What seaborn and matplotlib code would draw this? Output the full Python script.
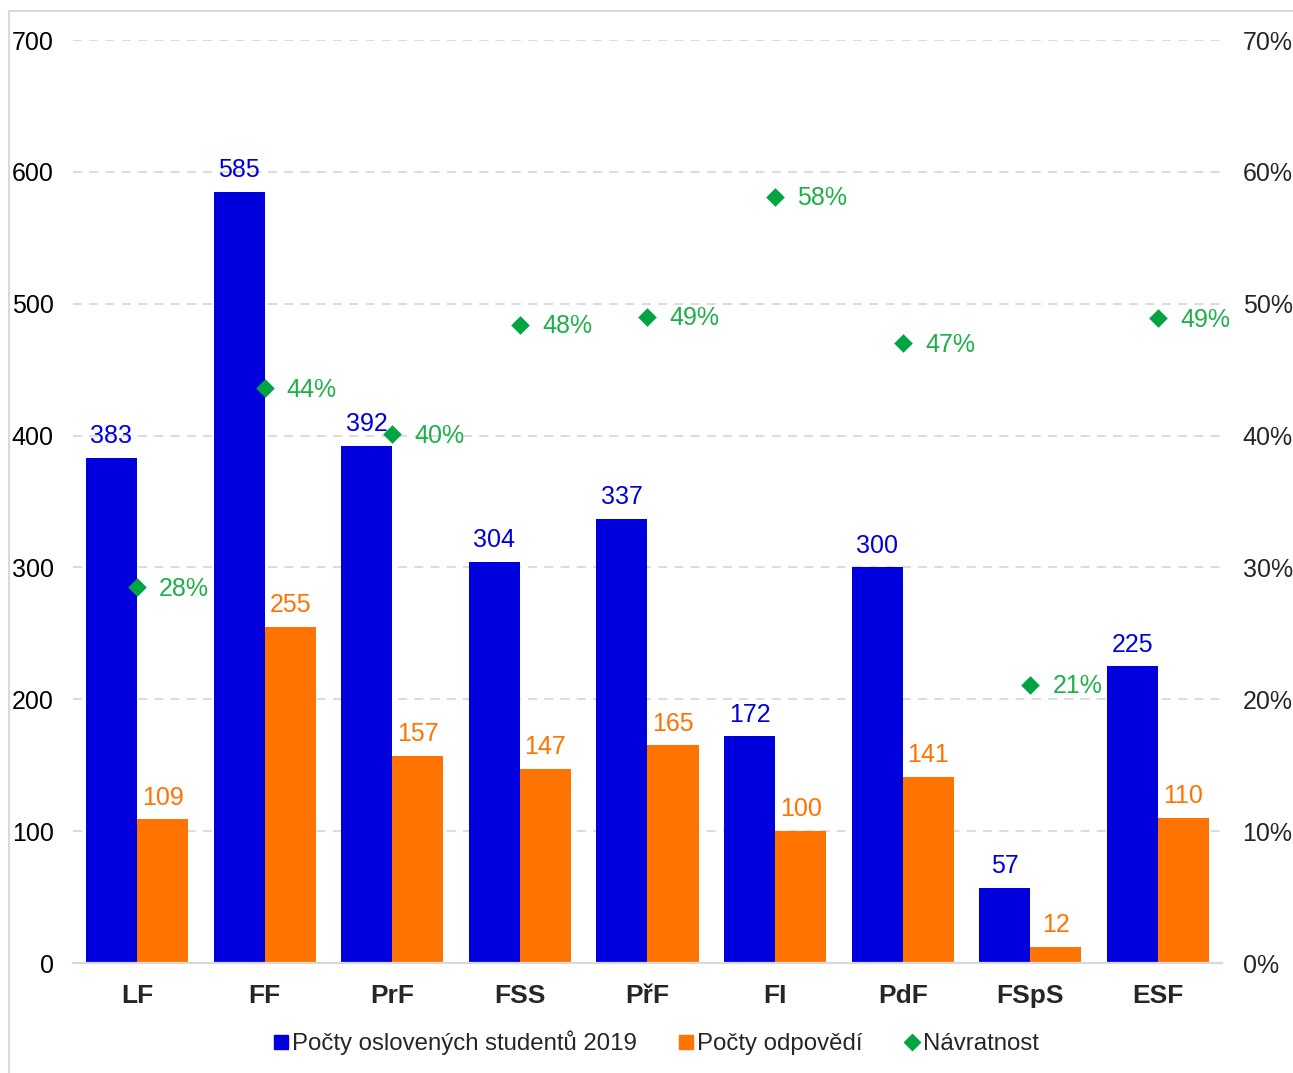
import pandas as pd
import seaborn as sns
import matplotlib.pyplot as plt
from matplotlib.lines import Line2D
from matplotlib.patches import Rectangle
from matplotlib.ticker import FuncFormatter

# data
fakulty = ['LF', 'FF', 'PrF', 'FSS', 'PřF', 'FI', 'PdF', 'FSpS', 'ESF']
osloveni = [383, 585, 392, 304, 337, 172, 300, 57, 225]
odpovedi = [109, 255, 157, 147, 165, 100, 141, 12, 110]
navratnost = [28.5, 43.6, 40.1, 48.4, 49.0, 58.1, 47.0, 21.1, 48.9]

serie = ['Počty oslovených studentů 2019', 'Počty odpovědí', 'Návratnost']
blue = '#0000DC'
orange = '#FF7300'
green = '#00A542'
green_txt = '#1DB04A'
grid_c = '#D9D9D9'

sns.set_theme(style='white')
plt.rcParams['font.family'] = ['Liberation Sans', 'DejaVu Sans']

df = pd.DataFrame({
    'fakulta': fakulty * 2,
    'pocet': osloveni + odpovedi,
    'serie': [serie[0]] * len(fakulty) + [serie[1]] * len(fakulty),
})

fig = plt.figure(figsize=(12.93, 10.73), dpi=100)
ax = fig.add_axes([0.0566, 0.1025, 0.8883, 0.8602])

sns.barplot(data=df, x='fakulta', y='pocet', hue='serie', palette=[blue, orange],
            width=0.8, saturation=1, ax=ax, legend=False, errorbar=None, linewidth=0)
ax.set_xlim(-0.5, len(fakulty) - 0.5)
ax.set_ylim(0, 700)
ax.set_yticks(range(0, 701, 100))
ax.set_xlabel('')
ax.set_ylabel('')
ax.grid(axis='y', color=grid_c, linestyle=(0, (5, 4)), linewidth=1.3)
ax.set_axisbelow(True)
for s in ['top', 'left', 'right']:
    ax.spines[s].set_visible(False)
ax.spines['bottom'].set_color(grid_c)
ax.spines['bottom'].set_linewidth(1.6)
ax.tick_params(axis='y', length=0, pad=14, labelsize=18, labelcolor='black')
ax.tick_params(axis='x', length=0, pad=15, labelsize=19)
for t in ax.get_xticklabels():
    t.set_fontweight('bold')

# bar value labels
for cont, col in zip(ax.containers, [blue, orange]):
    for bar in cont:
        h = bar.get_height()
        ax.annotate(f'{h:.0f}', (bar.get_x() + bar.get_width() / 2, h),
                    xytext=(0, 7), textcoords='offset points', ha='center', va='bottom',
                    fontsize=18, color=col)

# return rate on secondary axis
ax2 = ax.twinx()
sns.scatterplot(x=list(range(len(fakulty))), y=navratnost, marker='D', s=90, color=green,
                edgecolor=green, linewidth=0, ax=ax2, zorder=5)
ax2.set_ylim(0, 70)
ax2.set_yticks(range(0, 71, 10))
ax2.yaxis.set_major_formatter(FuncFormatter(lambda v, p: f'{v:.0f}%'))
ax2.tick_params(axis='y', length=0, pad=15, labelsize=18)
for s in ax2.spines.values():
    s.set_visible(False)
ax2.grid(False)
for i, r in enumerate(navratnost):
    ax2.annotate(f'{r:.0f}%', (i, r), xytext=(16, -1), textcoords='offset points',
                 ha='left', va='center', fontsize=18, color=green_txt)

handles = [
    Line2D([], [], marker='s', linestyle='none', color=blue, markersize=10),
    Line2D([], [], marker='s', linestyle='none', color=orange, markersize=10),
    Line2D([], [], marker='D', linestyle='none', color=green, markersize=8),
]
fig.legend(handles, serie, loc='center', bbox_to_anchor=(0.5077, 0.028), ncol=3,
           frameon=False, fontsize=17.3, handlelength=0.6, handletextpad=0.15,
           columnspacing=1.75)

fig.patches.append(Rectangle((0.007, -0.1), 1.2, 1.0897, transform=fig.transFigure,
                             fill=False, edgecolor=grid_c, linewidth=1.5))

fig.savefig('out.png', dpi=100)
